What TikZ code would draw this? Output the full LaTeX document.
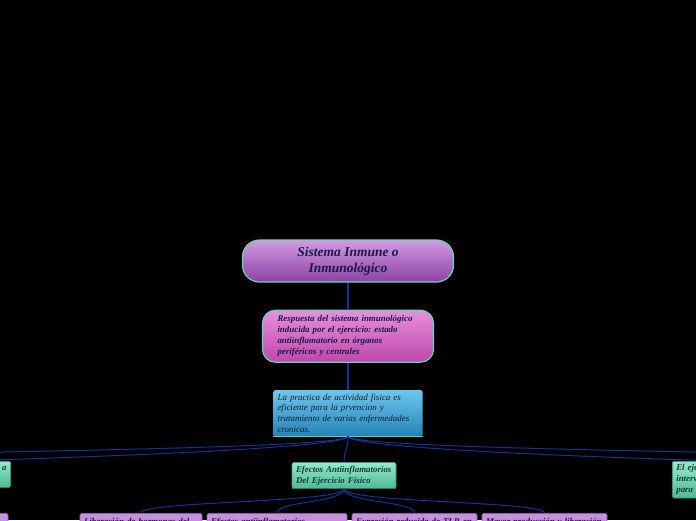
\documentclass[tikz,border=0pt]{standalone}
\usepackage{fontspec}
\setmainfont{Liberation Serif}
\usetikzlibrary{positioning}

\definecolor{mapnavy}{HTML}{1A1948}
\definecolor{mapgreen}{HTML}{0F3F30}
\definecolor{edgeteal}{HTML}{62D6BE}
\definecolor{linkblue}{HTML}{12349E}
\definecolor{lilacTop}{HTML}{D29AE2}
\definecolor{lilacBot}{HTML}{8C42A4}
\definecolor{pinkTop}{HTML}{E88EDC}
\definecolor{pinkBot}{HTML}{BE48AA}
\definecolor{skyTop}{HTML}{6EC6EC}
\definecolor{skyBot}{HTML}{2484B8}
\definecolor{skyText}{HTML}{101E30}
\definecolor{mintTop}{HTML}{96EACC}
\definecolor{mintBot}{HTML}{4EB896}
\definecolor{mintEdge}{HTML}{469678}
\definecolor{mintLine}{HTML}{5AD2A0}
\definecolor{mintDark}{HTML}{32785F}
\definecolor{leafFill}{HTML}{C88EE0}
\definecolor{leafEdge}{HTML}{965AB4}
\definecolor{leafText}{HTML}{281840}

\begin{document}
\frenchspacing
\begin{tikzpicture}[
  x=1pt, y=-1pt,
  node distance=26pt and 5pt,
  topic/.style={draw=edgeteal, line width=1.2pt, rounded corners=17pt,
    minimum width=211pt, minimum height=42pt, inner sep=2pt,
    top color=lilacTop, bottom color=lilacBot,
    text=mapnavy, align=center,
    font=\fontsize{13.5}{16}\selectfont\bfseries\itshape},
  resp/.style={draw=edgeteal, line width=1.2pt, rounded corners=13pt,
    minimum width=171pt, minimum height=52pt, inner xsep=15pt,
    top color=pinkTop, bottom color=pinkBot,
    text=mapnavy, text width=141pt, align=left,
    font=\fontsize{8.9}{11}\selectfont\bfseries\itshape},
  fact/.style={rounded corners=1.5pt,
    minimum width=149pt, minimum height=46pt, inner xsep=4pt,
    top color=skyTop, bottom color=skyBot,
    text=skyText, text width=141pt, align=left,
    font=\fontsize{9}{10.6}\selectfont\itshape},
  subtopic/.style={draw=mintEdge, line width=0.6pt, rounded corners=1.5pt,
    minimum height=26pt, inner xsep=4pt,
    top color=mintTop, bottom color=mintBot,
    text=mapgreen, align=left,
    font=\fontsize{8.9}{11}\selectfont\bfseries\itshape},
  leaf/.style={draw=leafEdge, line width=0.6pt, rounded corners=1.5pt,
    inner xsep=4pt, inner ysep=3.5pt, anchor=north,
    fill=leafFill, text=leafText, align=left,
    font=\fontsize{8.9}{11}\selectfont\bfseries\itshape},
  link/.style={draw=linkblue, line width=1pt}
]

\fill[black] (0,0) rectangle (696,520);
\useasboundingbox (0,0) rectangle (696,520);
\clip (0,0) rectangle (696,520);

% Nodes
\node[topic] (sys) at (348,261) {Sistema Inmune o\\Inmunológico};
\node[resp, below=27pt of sys] (resp) {Respuesta del sistema inmunológico\\inducida por el ejercicio: estado\\antiinflamatorio en órganos\\periféricos y centrales};
\node[fact, below=27pt of resp] (prac) {La practica de actividad fisica es\\eficiente para la prvencion y\\tratamiento de varias enfermedades\\cronicas.};
\node[subtopic, below=26pt of prac, xshift=-4pt, minimum width=104pt, text width=96pt] (efec) {Efectos Antiinflamatorios\\Del Ejercicio Físico};
\node[subtopic, anchor=north east, minimum width=100pt, text width=92pt, align=right] (izq) at (11,461) {a\\\mbox{}};
\node[subtopic, anchor=north west, minimum width=100pt, minimum height=36pt, text width=92pt] (der) at (672,461) {El eje\\interv\\para};
\node[leaf, text width=92pt] (hoja0) at (-42,513) {\mbox{}\\\mbox{}\\\mbox{}};
\node[leaf, text width=114pt] (horm) at (141,513) {\strut Liberación de hormonas del\\\mbox{}\\\mbox{}};
\node[leaf, text width=132pt] (anti) at (277,513) {\strut Efectos antiinflamatorios\\\mbox{}\\\mbox{}};
\node[leaf, text width=117pt] (tlr) at (414.5,513) {\strut Expresión reducida de TLR en\\\mbox{}\\\mbox{}};
\node[leaf, text width=117pt] (mayor) at (544.5,513) {\strut Mayor producción y liberación\\\mbox{}\\\mbox{}};
\coordinate (lejosIzq) at (-320,458);
\coordinate (lejosDer) at (1020,458);
\coordinate (hijoDer) at (600,560);

% Accent lines
\draw[mintLine, line width=1.2pt] (prac.south west) -- (prac.south east);
\draw[mintDark, line width=1pt] (efec.south west) -- (efec.south east);

% Pointers
\draw[link, line width=1.3pt] (sys) -- (resp);
\draw[link, line width=1.3pt] (resp) -- (prac);
\draw[link] (prac.south) .. controls +(0,14) and +(0,-12) .. (efec.north);
\draw[link] (prac.south) .. controls +(0,10) and +(200,-6) .. (izq.north);
\draw[link] (prac.south) .. controls +(0,12) and +(300,-6) .. (lejosIzq);
\draw[link] (prac.south) .. controls +(0,10) and +(-200,-6) .. (der.north);
\draw[link] (prac.south) .. controls +(0,12) and +(-300,-6) .. (lejosDer);
\draw[link] (efec.south) .. controls +(0,14) and +(0,-12) .. (horm.north);
\draw[link] (efec.south) .. controls +(0,14) and +(0,-12) .. (anti.north);
\draw[link] (efec.south) .. controls +(0,14) and +(0,-12) .. (tlr.north);
\draw[link] (efec.south) .. controls +(0,14) and +(0,-12) .. (mayor.north);
\draw[link] (der.south) .. controls +(0,16) and +(60,-20) .. (hijoDer);
\end{tikzpicture}
\end{document}
